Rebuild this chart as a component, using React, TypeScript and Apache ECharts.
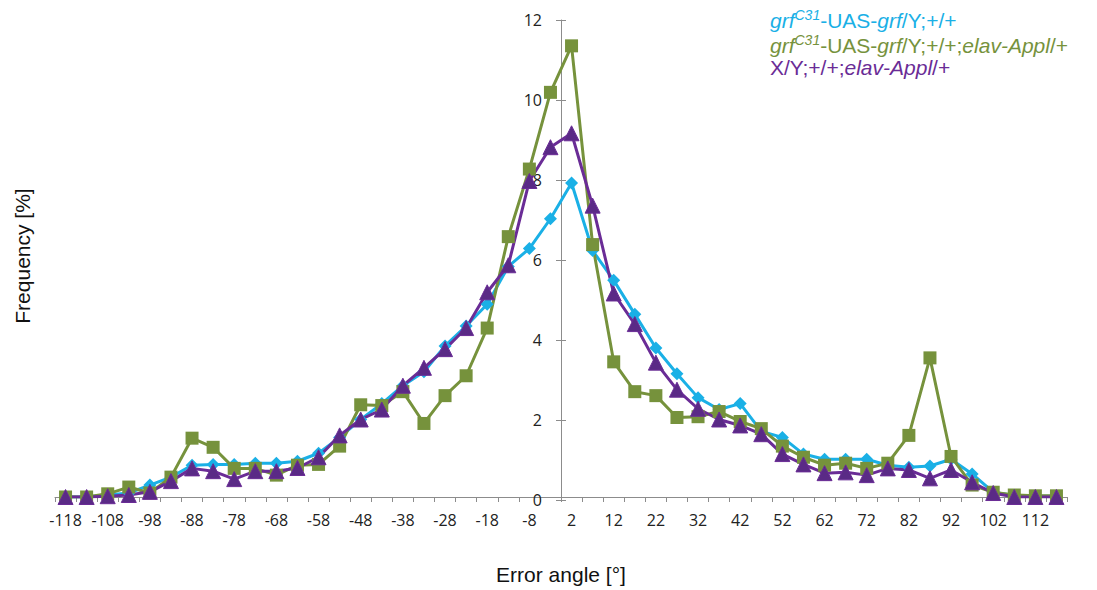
import React, { useEffect, useRef } from "react";
import * as echarts from "echarts";

const categories = [
  "-118", "-113", "-108", "-103", "-98", "-93", "-88", "-83", "-78", "-73", "-68", "-63",
  "-58", "-53", "-48", "-43", "-38", "-33", "-28", "-23", "-18", "-13", "-8", "-3",
  "2", "7", "12", "17", "22", "27", "32", "37", "42", "47", "52", "57",
  "62", "67", "72", "77", "82", "87", "92", "97", "102", "107", "112", "117",
];

const blueValues = [
  0, 0, 0.05, 0.1, 0.3, 0.5, 0.8, 0.82, 0.82, 0.85, 0.85, 0.9,
  1.1, 1.5, 1.95, 2.35, 2.8, 3.15, 3.8, 4.3, 4.85, 5.8, 6.25, 7.0,
  7.9, 6.2, 5.45, 4.6, 3.75, 3.1, 2.5, 2.2, 2.35, 1.65, 1.5, 1.08,
  0.95, 0.95, 0.95, 0.8, 0.75, 0.78, 0.95, 0.58, 0.12, 0.04, 0.02, 0.02,
];

const greenValues = [
  0, 0, 0.08, 0.25, 0.1, 0.5, 1.48, 1.25, 0.72, 0.72, 0.55, 0.8,
  0.82, 1.28, 2.32, 2.3, 2.65, 1.85, 2.55, 3.05, 4.25, 6.55, 8.25, 10.18,
  11.35, 6.35, 3.4, 2.65, 2.55, 2.0, 2.02, 2.15, 1.9, 1.72, 1.28, 1.0,
  0.8, 0.85, 0.72, 0.85, 1.55, 3.5, 1.02, 0.3, 0.12, 0.05, 0.03, 0.03,
];

const purpleValues = [
  0, 0, 0.02, 0.05, 0.13, 0.4, 0.72, 0.65, 0.45, 0.65, 0.65, 0.73,
  1.0, 1.55, 1.95, 2.2, 2.8, 3.25, 3.72, 4.25, 5.15, 5.83, 7.95, 8.8,
  9.15, 7.33, 5.12, 4.35, 3.38, 2.7, 2.22, 1.95, 1.8, 1.58, 1.08, 0.82,
  0.6, 0.62, 0.55, 0.72, 0.68, 0.47, 0.68, 0.37, 0.1, 0.0, 0.0, 0.0,
];

const BLUE = "#1AB0E6";
const GREEN = "#76923C";
const PURPLE = "#6A2C96";
const AXIS = "#8C8C8C";

const GRID = { left: 55, right: 30, top: 20, bottom: 90 };

export default function App() {
  const ref = useRef<HTMLDivElement>(null);
  useEffect(() => {
    if (!ref.current) return;
    const chart = echarts.init(ref.current, undefined, { renderer: "svg" });
    const plotW = 1097 - GRID.left - GRID.right;
    const band = plotW / categories.length;
    const yAxisX = GRID.left + band * categories.indexOf("2");

    const richBase = {
      i: { fontStyle: "italic", fontSize: 21, fontFamily: "Liberation Sans, Arial", lineHeight: 24 },
      n: { fontStyle: "normal", fontSize: 21, fontFamily: "Liberation Sans, Arial", lineHeight: 24 },
      sup: { fontStyle: "italic", fontSize: 14, fontFamily: "Liberation Sans, Arial", verticalAlign: "top", lineHeight: 24 },
    };
    const legendLine = (text: string, color: string, y: number) => ({
      type: "text",
      left: 770,
      top: y,
      style: {
        text,
        fill: color,
        rich: {
          i: { ...richBase.i, color },
          n: { ...richBase.n, color },
          sup: { ...richBase.sup, color },
        },
      },
    });

    const lineCommon = {
      type: "line",
      xAxisIndex: 0,
      yAxisIndex: 0,
      showAllSymbol: true,
    };

    chart.setOption({
      animation: false,
      backgroundColor: "#ffffff",
      grid: [
        { ...GRID },
        { left: yAxisX, right: GRID.right, top: GRID.top, bottom: GRID.bottom },
      ],
      xAxis: [
        {
          type: "category",
          gridIndex: 0,
          data: categories,
          boundaryGap: true,
          axisLine: { lineStyle: { color: AXIS, width: 1 } },
          axisTick: { show: true, interval: 0, length: 5, lineStyle: { color: AXIS } },
          axisLabel: {
            interval: 1,
            margin: 15,
            fontSize: 16,
            fontFamily: "Open Sans",
            color: "#222",
          },
          splitLine: { show: false },
          name: "Error angle [°]",
          nameLocation: "middle",
          nameGap: 67,
          nameTextStyle: { fontSize: 21, fontFamily: "Liberation Sans, Arial", color: "#111" },
        },
        { type: "value", gridIndex: 1, show: false, min: 0, max: 1 },
      ],
      yAxis: [
        { type: "value", gridIndex: 0, min: 0, max: 12, show: false },
        {
          type: "value",
          gridIndex: 1,
          position: "left",
          min: 0,
          max: 12,
          interval: 2,
          axisLine: { show: true, lineStyle: { color: AXIS, width: 1 } },
          axisTick: { show: true, length: 5, lineStyle: { color: AXIS } },
          axisLabel: { margin: 19, fontSize: 16, fontFamily: "Open Sans", color: "#222" },
          splitLine: { show: false },
        },
        {
          type: "value",
          gridIndex: 1,
          position: "left",
          min: 0,
          max: 12,
          interval: 2,
          axisLine: { show: false },
          axisTick: { show: true, inside: true, length: 5, lineStyle: { color: AXIS } },
          axisLabel: { show: false },
          splitLine: { show: false },
        },
      ],
      graphic: [
        {
          type: "text",
          x: 22,
          y: 256,
          rotation: Math.PI / 2,
          style: {
            text: "Frequency [%]",
            fill: "#111",
            font: "21px 'Liberation Sans', Arial",
            align: "center",
            verticalAlign: "middle",
          },
        },
        legendLine("{i|grf}{sup|C31}{n|-UAS-}{i|grf}{n|/Y;+/+}", BLUE, 8),
        legendLine("{i|grf}{sup|C31}{n|-UAS-}{i|grf}{n|/Y;+/+;}{i|elav-Appl}{n|/+}", GREEN, 33),
        legendLine("{n|X/Y;+/+;}{i|elav-Appl}{n|/+}", PURPLE, 57),
      ],
      series: [
        {
          ...lineCommon,
          name: "blue",
          data: blueValues,
          symbol: "diamond",
          symbolSize: 13,
          lineStyle: { color: BLUE, width: 3 },
          itemStyle: { color: BLUE },
        },
        {
          ...lineCommon,
          name: "green",
          data: greenValues,
          symbol: "rect",
          symbolSize: 13,
          lineStyle: { color: GREEN, width: 3 },
          itemStyle: { color: GREEN },
        },
        {
          ...lineCommon,
          name: "purple",
          data: purpleValues,
          symbol: "triangle",
          symbolSize: 15,
          lineStyle: { color: PURPLE, width: 3 },
          itemStyle: { color: "#5A2A86", borderColor: PURPLE, borderWidth: 1 },
        },
      ],
    });
    return () => chart.dispose();
  }, []);
  return (
    <div
      ref={ref}
      style={{ position: "absolute", left: 0, top: 0, width: 1097, height: 590, background: "#fff" }}
    />
  );
}
